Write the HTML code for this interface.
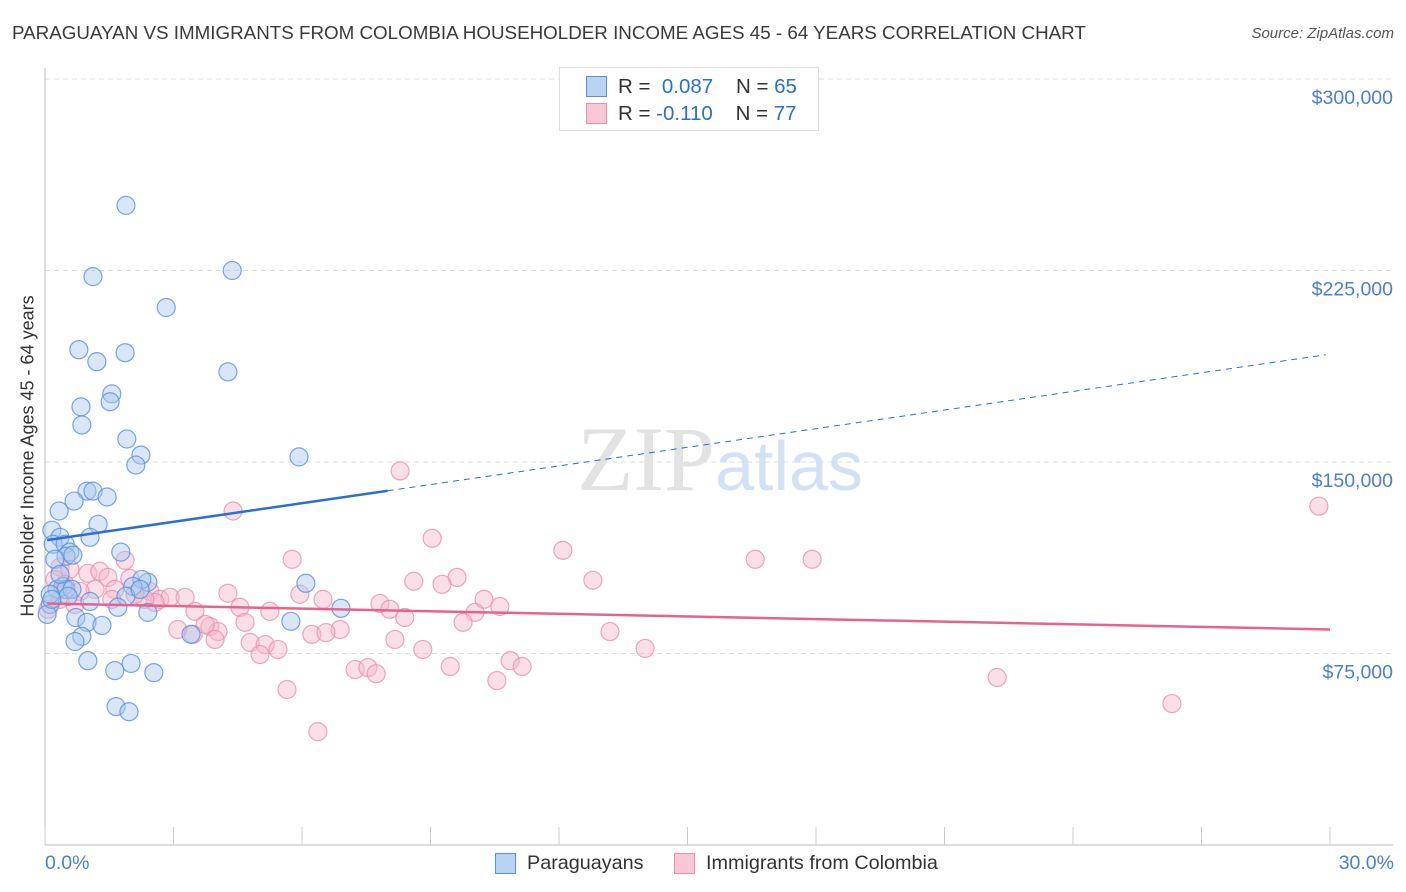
<!DOCTYPE html>
<html><head><meta charset="utf-8"><style>
body{margin:0;background:#fff;font-family:"Liberation Sans",sans-serif}
#wrap{position:relative;width:1406px;height:892px;overflow:hidden}
.t{position:absolute;white-space:nowrap}
</style></head><body>
<div id="wrap">
<div class="t" style="left:12px;top:22px;font-size:18.8px;color:#3a3a3a">PARAGUAYAN VS IMMIGRANTS FROM COLOMBIA HOUSEHOLDER INCOME AGES 45 - 64 YEARS CORRELATION CHART</div>
<div class="t" style="right:12px;top:25px;font-size:15px;color:#555;font-style:italic">Source: ZipAtlas.com</div>
<svg id="svg" width="1406" height="892" style="position:absolute;left:0;top:0"></svg>
</div>
<script>
const xTicks=[0,3,6,9,12,15,18,21,24,27,30];
const yTicks=[75,150,225,300];
const yTickLabels=["$75,000","$150,000","$225,000","$300,000"];
const blueX=[1.89,1.12,4.37,2.83,0.79,1.87,1.21,4.27,1.56,1.52,0.84,0.86,1.91,2.24,2.12,5.93,0.98,1.12,0.68,1.45,0.33,1.24,0.16,1.05,0.35,0.19,0.47,0.58,0.49,1.77,0.65,2.40,2.26,6.09,2.05,0.42,0.28,0.49,0.63,1.89,1.05,0.12,1.70,2.40,6.91,0.72,0.98,1.33,5.74,3.41,0.86,0.70,1.00,2.01,1.63,2.54,1.66,1.96,0.05,0.12,0.23,0.35,0.54,2.22,0.16];
const blueY=[250.5,222.6,225.0,210.5,194.0,192.8,189.3,185.3,176.7,173.6,171.6,164.5,159.0,152.7,148.8,152.0,138.6,138.6,134.7,136.3,130.8,125.6,123.3,120.5,120.5,117.8,117.8,114.7,113.1,114.7,113.5,102.9,104.0,102.5,101.3,101.3,100.1,100.1,100.1,97.4,95.4,94.2,93.1,91.1,92.7,89.1,87.2,86.0,87.6,82.5,81.7,79.7,72.2,71.1,68.3,67.5,54.2,52.2,90.3,98.2,111.9,106.0,97.4,100.1,96.2];
const pinkX=[29.74,8.29,4.39,9.04,12.09,5.77,16.58,17.91,1.87,0.35,0.58,1.00,1.28,1.47,1.98,9.62,12.79,8.61,9.27,0.23,0.47,1.17,1.63,2.45,2.68,2.92,3.27,4.27,5.95,6.49,10.25,10.62,7.82,8.05,4.55,5.25,2.57,2.33,3.50,10.04,9.76,8.40,4.67,3.85,4.04,3.10,6.89,6.23,6.56,3.46,3.97,13.19,4.79,5.14,5.44,5.02,8.17,8.82,14.01,10.86,7.24,7.54,7.73,9.46,11.14,10.55,22.23,5.65,26.31,6.37,0.82,0.35,0.07,1.56,0.70,3.74,2.10];
const pinkY=[132.7,146.5,130.8,120.1,115.4,111.9,111.9,111.9,111.5,108.8,108.0,106.4,107.2,104.8,104.4,104.8,103.7,103.3,102.1,104.0,102.1,100.1,100.1,99.3,96.2,97.0,97.0,98.6,98.2,96.2,96.2,93.4,94.6,92.3,93.1,91.5,95.0,96.2,91.5,91.1,87.2,89.1,87.2,85.6,83.6,84.4,84.4,82.5,83.2,82.5,80.5,83.6,79.3,78.5,76.6,74.6,80.5,76.6,77.0,72.2,68.7,69.5,67.1,69.9,69.9,64.4,65.6,60.9,55.4,44.4,99.3,96.2,92.3,96.2,94.2,86.4,98.2];
const blueTrend=[0.05,119.4,29.9,192.0];
const blueSolidEnd=8.0;
const pinkTrend=[0.05,94.6,30,84.4];

const svg=document.getElementById('svg');
const NS='http://www.w3.org/2000/svg';
const X=v=>45+v/30*1285;
const Y=v=>845-v*191.5/75;
function mk(tag,attrs,parent){const e=document.createElementNS(NS,tag);for(const k in attrs)e.setAttribute(k,attrs[k]);(parent||svg).appendChild(e);return e;}

yTicks.forEach((v,i)=>{const l=mk('line',{x1:45,x2:1393,y1:Y(v),y2:Y(v),stroke:'#dcdcdc','stroke-dasharray':'5,4'});


const t=mk('text',{x:1393,y:Y(v)+25,'text-anchor':'end','font-size':19.5,fill:'#4a7fd4','font-family':'Liberation Sans'});


t.textContent=yTickLabels[i];});
const ax=mk('line',{x1:45,x2:1393,y1:845,y2:845,stroke:'#bbb'});


const ay=mk('line',{x1:45,x2:45,y1:68,y2:845,stroke:'#bbb'});


xTicks.forEach(v=>{const l=mk('line',{x1:X(v),x2:X(v),y1:827,y2:845,stroke:'#ccc'});

});
const wm=mk('text',{x:720,y:490,'text-anchor':'middle','font-size':92,fill:'#e2e2e2','font-family':'Liberation Serif'});


wm.innerHTML='ZIP<tspan font-family="Liberation Sans" fill="#d3e1f4" font-size="70">atlas</tspan>';

function pts(xs,ys,fill,stroke,name){xs.forEach((x,i)=>{const c=mk('circle',{cx:X(x),cy:Y(ys[i]),r:9,fill:fill,'fill-opacity':0.45,stroke:stroke,'stroke-opacity':0.8,'stroke-width':1.2});

});}
pts(pinkX,pinkY,'#f5b8cb','#e890ad','colombia-point');
pts(blueX,blueY,'#a9c8f0','#5a8fdc','paraguayan-point');

const by=x=>blueTrend[1]+(x-blueTrend[0])*(blueTrend[3]-blueTrend[1])/(blueTrend[2]-blueTrend[0]);
const b1=mk('line',{x1:X(blueTrend[0]),y1:Y(blueTrend[1]),x2:X(blueSolidEnd),y2:Y(by(blueSolidEnd)),stroke:'#2a6fd6','stroke-width':2.5});


const b2=mk('line',{x1:X(blueSolidEnd),y1:Y(by(blueSolidEnd)),x2:X(blueTrend[2]),y2:Y(blueTrend[3]),stroke:'#2a6fd6','stroke-width':1,'stroke-dasharray':'6,5'});


const p1=mk('line',{x1:X(pinkTrend[0]),y1:Y(pinkTrend[1]),x2:X(pinkTrend[2]),y2:Y(pinkTrend[3]),stroke:'#e8628f','stroke-width':2.5});


</script>
<div class="t" style="left:28px;top:456px;transform:translate(-50%,-50%) rotate(-90deg);font-size:18px;color:#333">Householder Income Ages 45 - 64 years</div>
<div class="t" style="left:45px;top:852px;font-size:19.5px;color:#4a7fd4">0.0%</div>
<div class="t" style="right:12px;top:852px;font-size:19.5px;color:#4a7fd4">30.0%</div>
<div style="position:absolute;left:559px;top:67px;width:258px;height:62px;border:1px solid #ddd;background:#fff;font-size:20.5px;color:#333">
 <div style="position:absolute;left:26px;top:8px;width:19px;height:19px;background:#b9d3f5;border:1px solid #5a8fdc"></div>
 <div class="t" style="left:58px;top:7px">R = <span style="color:#2a6fd6">&nbsp;0.087</span>&nbsp;&nbsp;&nbsp; N = <span style="color:#2a6fd6">65</span></div>
 <div style="position:absolute;left:26px;top:35px;width:19px;height:19px;background:#f8c6d5;border:1px solid #e890ad"></div>
 <div class="t" style="left:58px;top:34px">R = <span style="color:#2a6fd6">-0.110</span>&nbsp;&nbsp;&nbsp; N = <span style="color:#2a6fd6">77</span></div>
</div>
<div>
 <div style="position:absolute;left:495px;top:853px;width:19px;height:19px;background:#b9d3f5;border:1px solid #5a8fdc"></div>
 <div class="t" style="left:527px;top:852px;font-size:19.8px;color:#333">Paraguayans</div>
 <div style="position:absolute;left:674px;top:853px;width:19px;height:19px;background:#f8c6d5;border:1px solid #e890ad"></div>
 <div class="t" style="left:706px;top:852px;font-size:19.8px;color:#333">Immigrants from Colombia</div>
</div>
</body></html>
